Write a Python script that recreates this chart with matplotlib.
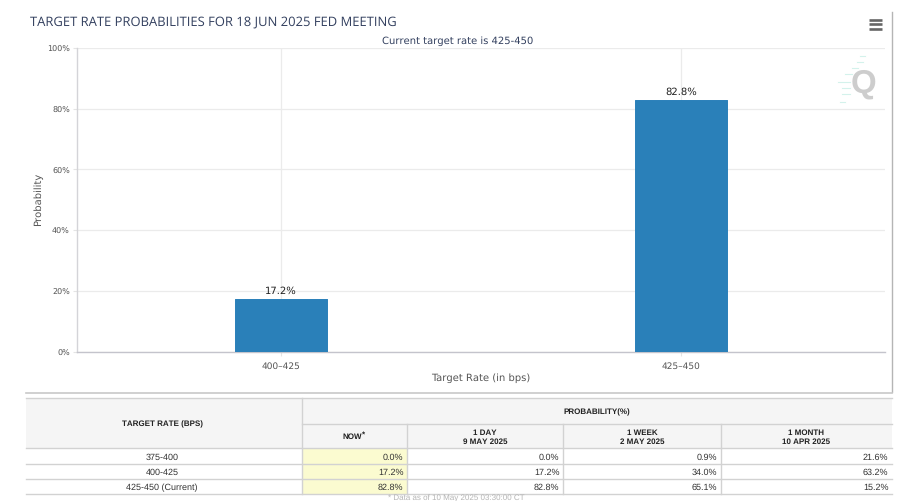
import matplotlib
matplotlib.use("Agg")
import matplotlib.pyplot as plt
from matplotlib.patches import Rectangle

plt.rcParams["text.hinting"] = "no_hinting"
plt.rcParams["text.hinting_factor"] = 1

W, H = 900, 502
categories = ["400\u2013425", "425\u2013450"]
probabilities = [17.2, 82.8]
y_ticks = [0, 20, 40, 60, 80, 100]
title = "TARGET RATE PROBABILITIES FOR 18 JUN 2025 FED MEETING"
subtitle = "Current target rate is 425-450"
x_label = "Target Rate (in bps)"
y_label = "Probability"

row_labels = ["375-400", "400-425", "425-450 (Current)"]
col_headers = ["NOW", "1 DAY\n9 MAY 2025", "1 WEEK\n2 MAY 2025", "1 MONTH\n10 APR 2025"]
now_vals = ["0.0%", "17.2%", "82.8%"]
day_vals = ["0.0%", "17.2%", "82.8%"]
week_vals = ["0.9%", "34.0%", "65.1%"]
month_vals = ["21.6%", "63.2%", "15.2%"]
table_cols = [now_vals, day_vals, week_vals, month_vals]
footer = "* Data as of 10 May 2025 03:30:00 CT"

UI = ["DejaVu Sans"]
TT = ["Open Sans", "DejaVu Sans"]
TB = ["Liberation Sans"]

fig = plt.figure(figsize=(W / 100, H / 100), dpi=100, facecolor="white")

pg = fig.add_axes([0, 0, 1, 1], zorder=0)
pg.set_xlim(0, W)
pg.set_ylim(H, 0)
pg.axis("off")

L, R, T, B = 77, 885, 49, 352.5
ax = fig.add_axes([L / W, 1 - B / H, (R - L) / W, (B - T) / H], zorder=1)
ax.patch.set_alpha(0)
ax.set_xlim(-0.51, 1.51)
ax.set_ylim(0, 100)
ax.bar(range(len(categories)), probabilities, width=0.228, color="#2a80b9", edgecolor="#2a80b9",
       linewidth=0.7, joinstyle="round", zorder=3)
for i, v in enumerate(probabilities):
    ax.annotate(f"{v}%", (i, v), xytext=(0, 3), textcoords="offset points", ha="center",
                va="bottom", fontsize=7.4, color="#222222", family=UI)
ax.set_xticks(range(len(categories)), categories)
ax.set_yticks(y_ticks, [f"{t}%" for t in y_ticks])
ax.grid(True, color="#ebebeb", lw=0.9, zorder=0)
ax.set_axisbelow(True)
for s in ("top", "right"):
    ax.spines[s].set_visible(False)
ax.spines["left"].set_color("#d4d4d8")
ax.spines["left"].set_linewidth(1.0)
ax.spines["bottom"].set_color("#c4c4cc")
ax.spines["bottom"].set_linewidth(1.0)
ax.tick_params(axis="y", length=3, color="#e4e4e4", width=0.8, labelsize=5.9, labelcolor="#555555", pad=2.2)
ax.tick_params(axis="x", length=3, color="#e4e4e4", width=0.8, labelsize=6.3, labelcolor="#555555", pad=3.6)
for t in ax.get_xticklabels() + ax.get_yticklabels():
    t.set_family(UI)
ax.set_xlabel(x_label, fontsize=7.0, color="#555555", family=UI, va="center")
ax.set_ylabel(y_label, fontsize=7, color="#555555", family=UI, va="center")
ax.xaxis.set_label_coords((481 - L) / (R - L), -(378 - B) / (B - T))
ax.yaxis.set_label_coords((38 - L) / (R - L), (B - 199) / (B - T))

pg.text(30, 22, title, fontsize=9.3, color="#33405f", va="center", ha="left", family=TT)
pg.text(457.5, 41, subtitle, fontsize=7.0, color="#33405f", va="center", ha="center", family=UI)

for y in (20.5, 25, 29.5):
    pg.plot([868.5, 882], [y, y], color="#666666", lw=1.9, solid_capstyle="butt")

pg.text(863, 84, "Q", fontsize=24, fontweight="bold", color="#cdcdcd", ha="center", va="center",
        family=TB, zorder=2)
for x0, x1, y in [(860, 865, 57), (857, 863, 63), (852, 858, 69), (845, 852, 75), (838, 850, 83),
                  (842, 850, 89), (842, 850, 95), (840, 845, 103)]:
    pg.plot([x0, x1], [y, y], color="#d4f2ec", lw=0.8)

pg.plot([891.5, 891.5], [13, 393], color="#b5b5b5", lw=1)
pg.plot([26, 891.5], [393.5, 393.5], color="#c8c8c8", lw=1.2)

xs = [26, 302, 407, 563, 721, 892]
y_top, y_mid, y_head = 399, 425, 449
rows_y = [449, 464.5, 479.5, 494.5]
pg.add_patch(Rectangle((xs[0], y_top), xs[-1] - xs[0], y_head - y_top, fc="#f5f5f5", ec="none"))
pg.add_patch(Rectangle((xs[1], y_head), xs[2] - xs[1], rows_y[-1] - y_head, fc="#fbfbd0", ec="none"))
LN = "#d2d2d2"
pg.plot([xs[0], xs[-1]], [y_top, y_top], color=LN, lw=1)
pg.plot([xs[1], xs[-1]], [y_mid, y_mid], color=LN, lw=1)
for y in rows_y:
    pg.plot([xs[0], xs[-1]], [y, y], color=LN, lw=1)
pg.plot([xs[1], xs[1]], [y_top, rows_y[-1]], color=LN, lw=1)
for x in xs[2:-1]:
    pg.plot([x, x], [y_mid, rows_y[-1]], color=LN, lw=1)

hdr = dict(fontsize=5.8, fontweight="bold", color="#222222", family=TB, ha="center", va="center")
pg.text(162, 424, "TARGET RATE (BPS)", **hdr)
pg.text(597, 412, "PROBABILITY(%)", **hdr)
for i, h in enumerate(col_headers):
    cx = (xs[i + 1] + xs[i + 2]) / 2
    if i == 0:
        pg.text(cx - 2, 436.5, h, **hdr)
        pg.text(cx + 9, 434.5, "*", **hdr)
    else:
        pg.text(cx, 437, h, linespacing=1.25, **hdr)

for r, lab in enumerate(row_labels):
    cy = (rows_y[r] + rows_y[r + 1]) / 2 + 0.5
    pg.text(162, cy, lab, fontsize=6.4, color="#333333", family=TB, ha="center", va="center")
    for c, vals in enumerate(table_cols):
        pg.text(xs[c + 2] - 3.5, cy, vals[r], fontsize=6.5, color="#333333", family=TB,
                ha="right", va="center")

pg.text(456, 498.5, footer, fontsize=6.0, color="#b5b5b5", family=TB, ha="center", va="center")

fig.savefig("out.png", dpi=100)
